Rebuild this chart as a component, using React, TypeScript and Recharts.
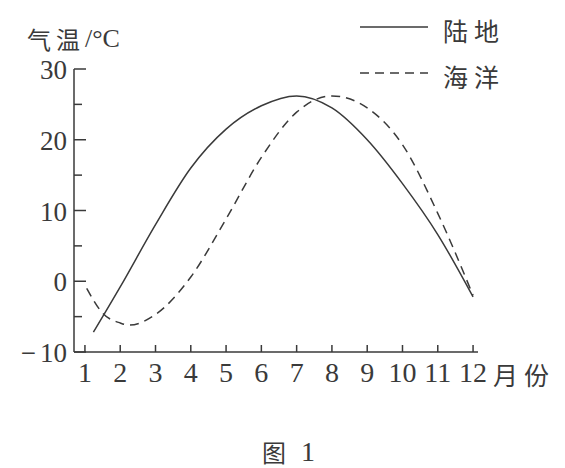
import { Customized, Line, LineChart, XAxis, YAxis } from "recharts";

// month ticks on the x axis, temperature ticks on the y axis (minor ticks every 5°C)
const monthTicks = [1, 2, 3, 4, 5, 6, 7, 8, 9, 10, 11, 12];
const tempTicks = [-10, -5, 0, 5, 10, 15, 20, 25, 30];

// 陆地 (land)
const landMonths = [1.24, 2, 3, 4, 5, 6, 7, 8, 9, 10, 11, 12];
const landTemps = [-7.2, -0.8, 8.0, 16.0, 21.5, 24.8, 26.2, 24.5, 20.0, 13.8, 6.6, -2.2];

// 海洋 (ocean)
const oceanMonths = [1.05, 1.5, 2, 2.25, 3, 4, 5, 6, 7, 8, 9, 10, 11, 12];
const oceanTemps = [-1.0, -4.5, -5.9, -6.2, -4.7, 0.6, 8.8, 17.5, 23.9, 26.2, 24.5, 19.3, 9.6, -2.0];

const series = [
  { name: "陆地", months: landMonths, temps: landTemps, dash: undefined as string | undefined },
  { name: "海洋", months: oceanMonths, temps: oceanTemps, dash: "9 6" },
];

const INK = "#3a3a3a";
const SERIF = "'Liberation Serif', 'DejaVu Serif', serif";
const CJK = "'Noto Sans CJK SC', sans-serif";
const Y_MARGIN = 7;
const X_MARGIN = 20;

function YTick(props: any) {
  const { x, y, payload } = props;
  const axisX = x + Y_MARGIN;
  const v = payload.value as number;
  const major = v % 10 === 0;
  return (
    <g>
      <line x1={axisX} x2={axisX + (major ? 12 : 8)} y1={y} y2={y} stroke={INK} strokeWidth={1.5} />
      {major && (
        <text x={x} y={y + 1} textAnchor="end" dominantBaseline="central" fontFamily={SERIF} fontSize={27} fill={INK}>
          {v < 0 && <tspan>{"\u2212"}</tspan>}
          <tspan dx={v < 0 ? 4 : 0}>{Math.abs(v)}</tspan>
        </text>
      )}
    </g>
  );
}

function XTick(props: any) {
  const { x, y, payload } = props;
  const axisY = y - X_MARGIN;
  return (
    <g>
      <line x1={x} x2={x} y1={axisY} y2={axisY - 7} stroke={INK} strokeWidth={1.5} />
      <text x={x} y={y} textAnchor="middle" dominantBaseline="central" fontFamily={SERIF} fontSize={28} fill={INK}>
        {payload.value}
      </text>
    </g>
  );
}

// legend and free-standing captions, drawn in page pixels
function Labels() {
  return (
    <g fill={INK}>
      {series.map((s, i) => (
        <g key={s.name}>
          <line x1={360} x2={428} y1={27 + i * 46} y2={27 + i * 46} stroke={INK} strokeWidth={1.5} strokeDasharray={s.dash} />
          <text x={443} y={30 + i * 46} dominantBaseline="central" fontFamily={CJK} fontSize={25} letterSpacing={6}>
            {s.name}
          </text>
        </g>
      ))}
      <text x={27} y={38} dominantBaseline="central" fontSize={24}>
        <tspan fontFamily={CJK} letterSpacing={5}>气温</tspan>
        <tspan fontFamily={SERIF} fontSize={26}>/°C</tspan>
      </text>
      <text x={493} y={374} dominantBaseline="central" fontFamily={CJK} fontSize={25} letterSpacing={6}>
        月份
      </text>
      <text x={262} y={451} dominantBaseline="central" fontFamily={CJK} fontSize={24}>
        图
      </text>
      <text x={301} y={451} dominantBaseline="central" fontFamily={SERIF} fontSize={28}>
        1
      </text>
    </g>
  );
}

export default function App() {
  return (
    <div style={{ position: "absolute", left: 0, top: 0, background: "#fff" }}>
      <LineChart width={565} height={468} margin={{ top: 69, right: 87, left: 14, bottom: 76 }}>
        <XAxis
          type="number"
          dataKey="month"
          domain={[0.69, 12.14]}
          ticks={monthTicks}
          allowDataOverflow
          height={40}
          tickLine={false}
          tickSize={0}
          tickMargin={X_MARGIN}
          tick={<XTick />}
          axisLine={{ stroke: INK, strokeWidth: 1.5 }}
          interval={0}
        />
        <YAxis
          type="number"
          domain={[-10, 30]}
          ticks={tempTicks}
          allowDataOverflow
          width={60}
          tickLine={false}
          tickSize={0}
          tickMargin={Y_MARGIN}
          tick={<YTick />}
          axisLine={{ stroke: INK, strokeWidth: 1.5 }}
          interval={0}
        />
        {series.map((s) => (
          <Line
            key={s.name}
            name={s.name}
            data={s.months.map((m, i) => ({ month: m, temp: s.temps[i] }))}
            dataKey="temp"
            type="monotone"
            stroke={INK}
            strokeWidth={1.5}
            strokeDasharray={s.dash}
            dot={false}
            activeDot={false}
            isAnimationActive={false}
          />
        ))}
        <Customized component={Labels} />
      </LineChart>
    </div>
  );
}
